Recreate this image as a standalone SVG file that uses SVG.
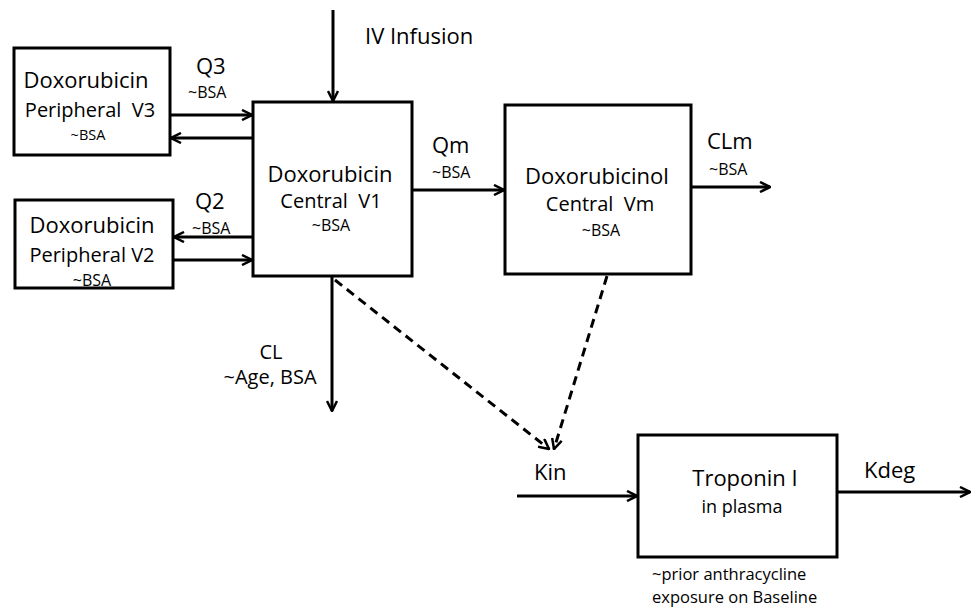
<svg xmlns="http://www.w3.org/2000/svg" width="976" height="608" viewBox="0 0 976 608">
<style>
.box{fill:#fff;stroke:#000;stroke-width:3}
.ln{fill:none;stroke:#000;stroke-width:3}
.dash{fill:none;stroke:#000;stroke-width:3;stroke-dasharray:9 6}
text{font-family:"Open Sans","Noto Sans",sans-serif;fill:#000}
.t1{font-size:22px}
.t2{font-size:20px}
.t3{font-size:14.5px}
.s{font-size:16px}
.b{font-size:16.5px}
.c{text-anchor:middle}
</style>
<defs>
<marker id="ah" viewBox="0 0 12 12" refX="11" refY="6" markerWidth="12" markerHeight="12" markerUnits="userSpaceOnUse" orient="auto">
<path d="M1,1 L11,6 L1,11" fill="none" stroke="#000" stroke-width="2.5"/>
</marker>
</defs>
<rect width="976" height="608" fill="#fff"/>
<g id="connectors">
<line class="ln" x1="333" y1="10" x2="333" y2="101" marker-end="url(#ah)"/>
<line class="ln" x1="170" y1="115" x2="252" y2="115" marker-end="url(#ah)"/>
<line class="ln" x1="253" y1="138" x2="171" y2="138" marker-end="url(#ah)"/>
<line class="ln" x1="253" y1="237" x2="174" y2="237" marker-end="url(#ah)"/>
<line class="ln" x1="173" y1="260" x2="252" y2="260" marker-end="url(#ah)"/>
<line class="ln" x1="412" y1="190" x2="504" y2="190" marker-end="url(#ah)"/>
<line class="ln" x1="691" y1="187" x2="770" y2="187" marker-end="url(#ah)"/>
<line class="ln" x1="332" y1="276" x2="332" y2="411" marker-end="url(#ah)"/>
<line class="dash" x1="335" y1="280" x2="549" y2="449" marker-end="url(#ah)"/>
<line class="dash" x1="607" y1="276" x2="554" y2="449" marker-end="url(#ah)"/>
<line class="ln" x1="517" y1="496" x2="637" y2="496" marker-end="url(#ah)"/>
<line class="ln" x1="837" y1="492" x2="970" y2="492" marker-end="url(#ah)"/>
</g>
<g id="v3">
<rect class="box" x="14" y="48" width="156" height="107"/>
<text class="t1 c" x="86" y="88">Doxorubicin</text>
<text class="t2 c" x="90" y="117" xml:space="preserve">Peripheral  V3</text>
<text class="t3 c" x="88" y="140">~BSA</text>
</g>
<g id="v2">
<rect class="box" x="15" y="200" width="158" height="88"/>
<text class="t1 c" x="92" y="233">Doxorubicin</text>
<text class="t2 c" x="92" y="262">Peripheral V2</text>
<text class="s c" x="92" y="286">~BSA</text>
</g>
<g id="v1">
<rect class="box" x="253" y="102" width="159" height="174"/>
<text class="t1 c" x="330" y="182">Doxorubicin</text>
<text class="t2 c" x="331" y="208" xml:space="preserve">Central  V1</text>
<text class="s c" x="331" y="231">~BSA</text>
</g>
<g id="vm">
<rect class="box" x="505" y="105" width="186" height="169"/>
<text class="t1 c" x="597" y="184">Doxorubicinol</text>
<text class="t2 c" x="600" y="211" xml:space="preserve">Central  Vm</text>
<text class="s c" x="601" y="236">~BSA</text>
</g>
<g id="troponin">
<rect class="box" x="638" y="435" width="199" height="122"/>
<text class="t1 c" x="745" y="486">Troponin I</text>
<text class="c" style="font-size:18px" x="742" y="513">in plasma</text>
</g>
<g id="labels">
<text class="t1" x="365" y="44">IV Infusion</text>
<text class="t1" x="196" y="74">Q3</text>
<text class="s" x="188" y="98">~BSA</text>
<text class="t1" x="195" y="209">Q2</text>
<text class="s" x="192" y="234">~BSA</text>
<text class="t1" x="432" y="153">Qm</text>
<text class="s" x="432" y="178">~BSA</text>
<text class="t1" x="707" y="149">CLm</text>
<text class="s" x="709" y="175">~BSA</text>
<text class="c" style="font-size:20px" x="271" y="359">CL</text>
<text class="c" style="font-size:20px" x="270" y="384">~Age, BSA</text>
<text class="t1" x="534" y="480">Kin</text>
<text class="t1" x="864" y="478">Kdeg</text>
<text class="b" x="652" y="580">~prior anthracycline</text>
<text class="b" x="652" y="603">exposure on Baseline</text>
</g>
</svg>
